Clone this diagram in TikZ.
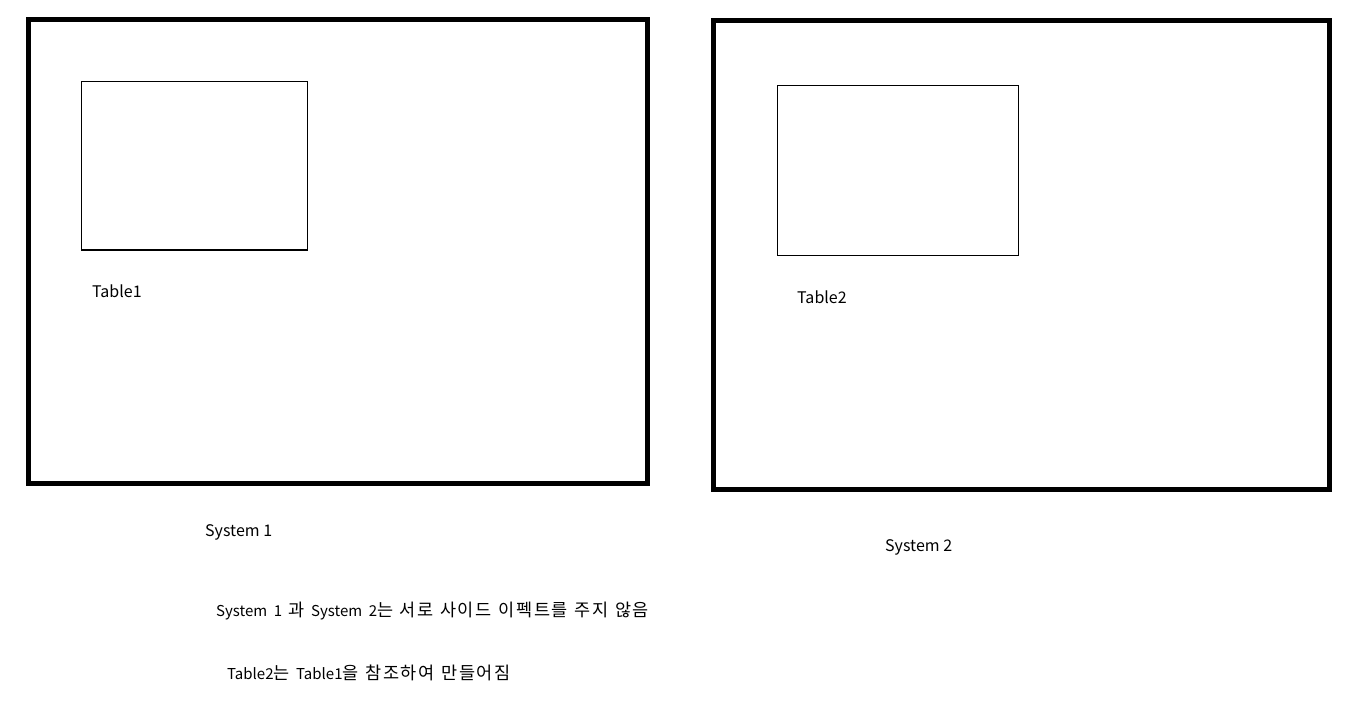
\documentclass[tikz,border=0pt]{standalone}
\usepackage{fontspec}
\setmainfont{Noto Sans CJK KR}
\newfontfamily\hgfont{Noto Sans CJK KR}[LetterSpace=10]
\newcommand\hg[1]{{\hgfont\fontsize{17.5}{19}\selectfont #1}}
\newcommand\notefont{\fontsize{15}{19}\selectfont\spaceskip=6.5pt\relax}
\begin{document}
\begin{tikzpicture}[x=1pt,y=-1pt,
  sysbox/.style={draw=black,line width=5pt,inner sep=0pt,outer sep=0pt,anchor=north west},
  tablebox/.style={draw=black,line width=1.2pt,inner sep=0pt,outer sep=0pt,anchor=north west},
  lbl/.style={inner sep=0pt,anchor=base west,font=\fontsize{16}{18}\selectfont,text=black},
  notelbl/.style={inner sep=0pt,anchor=base west,text=black}]
\path[use as bounding box] (0,0) rectangle (1352,718);
% system boxes
\node[sysbox,minimum width=619pt,minimum height=464pt] (sys1) at (28.5,19.5) {};
\node[sysbox,minimum width=616pt,minimum height=468.5pt] (sys2) at (713.5,20.7) {};
% tables
\node[tablebox,minimum width=225.5pt,minimum height=168.5pt] (tab1) at (81.8,81.5) {};
\node[tablebox,minimum width=240.5pt,minimum height=169.5pt] (tab2) at (777.8,85.8) {};
% labels
\node[lbl] (tab1lbl) at (92,297) {Table1};
\node[lbl] (tab2lbl) at (797,303.3) {Table2};
\node[lbl] (sys1lbl) at (205,536.7) {System 1};
\node[lbl] (sys2lbl) at (885,551.7) {System 2};
\node[notelbl] (note1) at (216,616.7) {\notefont System 1 \hg{과} System 2\hg{는} \hg{서로} \hg{사이드} \hg{이펙트를} \hg{주지} \hg{않음}};
\node[notelbl] (note2) at (227,679.3) {\notefont Table2\hg{는} Table1\hg{을} \hg{참조하여} \hg{만들어짐}};
\end{tikzpicture}
\end{document}
